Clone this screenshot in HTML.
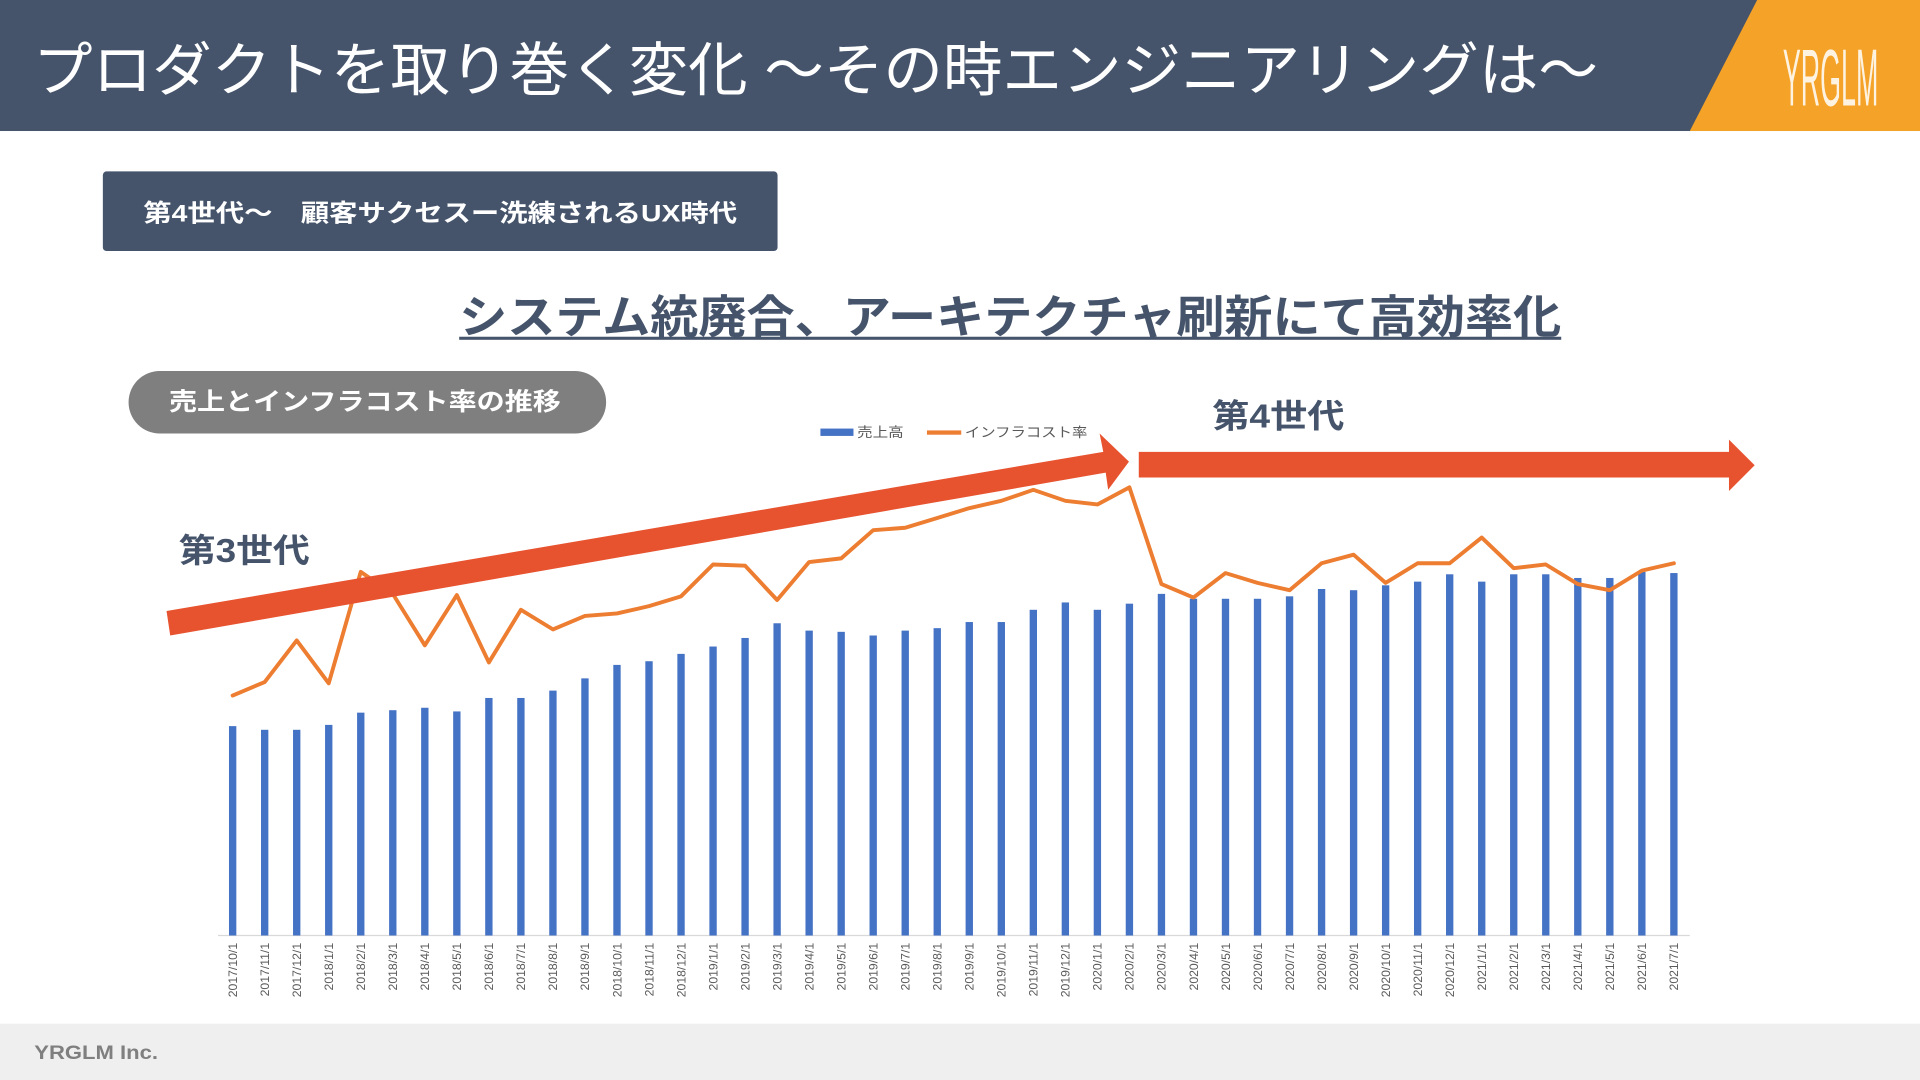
<!DOCTYPE html>
<html><head><meta charset="utf-8"><style>
html,body{margin:0;padding:0;background:#fff;}
svg{display:block;}
text{font-family:"Liberation Sans","Noto Sans CJK JP",sans-serif;}
</style></head><body>
<svg id="s" width="1920" height="1080" viewBox="0 0 1568 882">
  <rect x="0" y="0" width="1568" height="107" fill="#45546b"/>
  <text x="27" y="74" font-size="48" fill="#fff" textLength="1278" lengthAdjust="spacingAndGlyphs">プロダクトを取り巻く変化 ～その時エンジニアリングは～</text>
  <polygon points="1435,0 1568,0 1568,107 1380,107" fill="#f5a228"/>
  <text x="1456" y="86" font-size="66" fill="#fdf3e0" textLength="78" lengthAdjust="spacingAndGlyphs">YRGLM</text>

  <rect x="84" y="140" width="551" height="65" rx="3" fill="#45546b"/>
  <text x="117" y="181" font-size="20" font-weight="bold" fill="#fff" textLength="485" lengthAdjust="spacingAndGlyphs">第4世代～　顧客サクセスー洗練されるUX時代</text>

  <text x="375" y="272" font-size="37" font-weight="bold" fill="#45546b" textLength="900" lengthAdjust="spacingAndGlyphs">システム統廃合、アーキテクチャ刷新にて高効率化</text>
  <rect x="375" y="275" width="900" height="2.5" fill="#45546b"/>

  <rect x="105" y="303" width="390" height="51" rx="25.5" fill="#7f7f7f"/>
  <text x="138" y="335" font-size="20" font-weight="bold" fill="#fff" textLength="320" lengthAdjust="spacingAndGlyphs">売上とインフラコスト率の推移</text>

  <g>
    <rect x="670" y="350" width="27" height="6" fill="#4472c4"/>
    <text x="700" y="357" font-size="11" fill="#595959" textLength="38" lengthAdjust="spacingAndGlyphs">売上高</text>
    <rect x="757" y="351.5" width="28" height="3.5" fill="#ed7d31"/>
    <text x="788" y="357" font-size="11" fill="#595959" textLength="100" lengthAdjust="spacingAndGlyphs">インフラコスト率</text>
  </g>

  <g id="chart"></g>

  <polygon points="136,499 901,369 898,354 922,377 905,400 903,386 139,519" fill="#e8532f"/>
  <polygon points="930,369 1412,369 1412,359 1433,380 1412,401 1412,390 930,390" fill="#e8532f"/>
  <text x="146" y="459" font-size="27" font-weight="bold" fill="#45546b" textLength="107" lengthAdjust="spacingAndGlyphs">第3世代</text>
  <text x="990" y="349" font-size="27" font-weight="bold" fill="#45546b" textLength="108" lengthAdjust="spacingAndGlyphs">第4世代</text>

  <rect x="0" y="836" width="1568" height="46" fill="#efefef"/>
  <text x="28" y="865" font-size="16" font-weight="bold" fill="#7f7f7f" textLength="101" lengthAdjust="spacingAndGlyphs">YRGLM Inc.</text>
</svg>
<script>
const categories = ["2017/10/1","2017/11/1","2017/12/1","2018/1/1","2018/2/1","2018/3/1","2018/4/1","2018/5/1","2018/6/1","2018/7/1","2018/8/1","2018/9/1","2018/10/1","2018/11/1","2018/12/1","2019/1/1","2019/2/1","2019/3/1","2019/4/1","2019/5/1","2019/6/1","2019/7/1","2019/8/1","2019/9/1","2019/10/1","2019/11/1","2019/12/1","2020/1/1","2020/2/1","2020/3/1","2020/4/1","2020/5/1","2020/6/1","2020/7/1","2020/8/1","2020/9/1","2020/10/1","2020/11/1","2020/12/1","2021/1/1","2021/2/1","2021/3/1","2021/4/1","2021/5/1","2021/6/1","2021/7/1"];
const salesValues = [171,168,168,172,182,184,186,183,194,194,200,210,221,224,230,236,243,255,249,248,245,249,251,256,256,266,272,266,271,279,275,275,275,277,283,282,286,289,295,289,295,295,292,292,297,296];
const costValues = [196,207,241,206,297,279,237,278,223,266,250,261,263,269,277,303,302,274,305,308,331,333,341,349,355,364,355,352,366,287,276,296,288,282,304,311,288,304,304,325,300,303,287,282,298,304];

const NS = "http://www.w3.org/2000/svg";
const g = document.getElementById("chart");
const x0 = 190, x1 = 1367, yBase = 764;
function xPos(i){ return x0 + (x1 - x0) * i / (categories.length - 1); }
function ySales(v){ return yBase - v; }
function yCost(v){ return yBase - v; }

const axis = document.createElementNS(NS, "line");
axis.setAttribute("x1", 178); axis.setAttribute("x2", 1380);
axis.setAttribute("y1", yBase); axis.setAttribute("y2", yBase);
axis.setAttribute("stroke", "#d9d9d9"); axis.setAttribute("stroke-width", 1);


g.appendChild(axis);

categories.forEach((c, i) => {
  const r = document.createElementNS(NS, "rect");
  const y = ySales(salesValues[i]);
  r.setAttribute("x", xPos(i) - 3); r.setAttribute("width", 6);
  r.setAttribute("y", y); r.setAttribute("height", yBase - y);
  r.setAttribute("fill", "#4472c4");
  
  
  g.appendChild(r);

  const t = document.createElementNS(NS, "text");
  t.setAttribute("x", 0); t.setAttribute("y", 0);
  t.setAttribute("font-size", "10");
  t.setAttribute("fill", "#595959");
  t.setAttribute("text-anchor", "end");
  t.setAttribute("transform", "translate(" + (xPos(i) + 3.5) + "," + (yBase + 6) + ") rotate(-90)");
  t.textContent = c;
  
  
  g.appendChild(t);
});

const pts = costValues.map((v, i) => xPos(i) + "," + yCost(v)).join(" ");
const pl = document.createElementNS(NS, "polyline");
pl.setAttribute("points", pts);
pl.setAttribute("fill", "none");
pl.setAttribute("stroke", "#ed7d31");
pl.setAttribute("stroke-width", 3.2);
pl.setAttribute("stroke-linejoin", "round");
pl.setAttribute("stroke-linecap", "round");


g.appendChild(pl);
</script>
</body></html>
